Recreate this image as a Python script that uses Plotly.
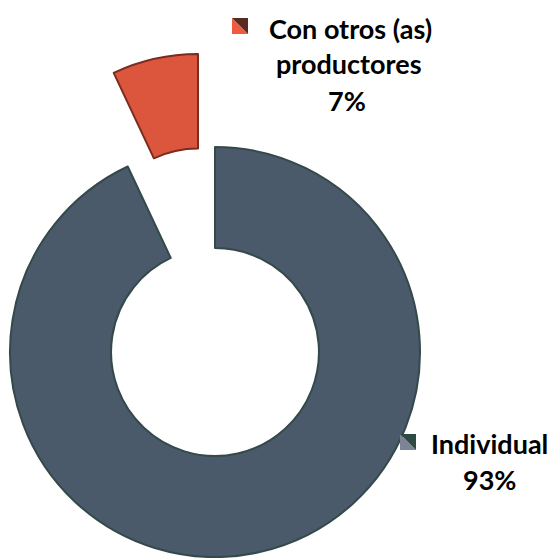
import plotly.graph_objects as go

categories = ["Individual", "Con otros (as) productores"]
values = [93, 7]
pct_labels = ["93%", "7%"]

blue = "#4a5a6b"
red = "#dc553d"
W, H = 553, 558

def px_dom(cx, cy, r):
    # cx, cy in px from top-left
    return dict(x=[(cx - r) / W, (cx + r) / W],
                y=[(H - cy - r) / H, (H - cy + r) / H])

fig = go.Figure()
# main ring (Individual)
fig.add_trace(go.Pie(
    labels=categories, values=values, sort=False, direction="clockwise",
    rotation=0, hole=0.507, textinfo="none", showlegend=False,
    marker=dict(colors=[blue, "rgba(0,0,0,0)"],
                line=dict(color=["#34494a", "rgba(0,0,0,0)"], width=2)),
    domain=px_dom(215, 352, 205),
))
# exploded slice (Con otros)
fig.add_trace(go.Pie(
    labels=categories, values=values, sort=False, direction="clockwise",
    rotation=0, hole=0.523, textinfo="none", showlegend=False,
    marker=dict(colors=["rgba(0,0,0,0)", red],
                line=dict(color=["rgba(0,0,0,0)", "#7a2c20"], width=2)),
    domain=dict(x=[0, 396 / W], y=[108 / H, 504 / H]),
))

font = dict(family="Lato", size=27, color="black", weight="bold")

def ann(text, x, y):
    return dict(text=text, x=x / W, y=1 - y / H, xref="paper", yref="paper",
                showarrow=False, xanchor="center", yanchor="middle", font=font)

annotations = [
    ann("Con otros (as)", 350, 28),
    ann("productores", 349, 64),
    ann(pct_labels[1], 347, 100),
    ann(categories[0], 489, 443),
    ann(pct_labels[0], 490, 479),
]

def tri(x0, y0, s, c_bl, c_tr):
    # legend key split diagonally
    X0, X1 = x0 / W, (x0 + s) / W
    Y0, Y1 = 1 - (y0 + s) / H, 1 - y0 / H
    return [
        dict(type="path", xref="paper", yref="paper",
             path=f"M{X0},{Y0} L{X1},{Y0} L{X0},{Y1} Z",
             fillcolor=c_bl, line=dict(width=0)),
        dict(type="path", xref="paper", yref="paper",
             path=f"M{X1},{Y1} L{X1},{Y0} L{X0},{Y1} Z",
             fillcolor=c_tr, line=dict(width=0)),
    ]

shapes = tri(232, 18, 16, "#ef5a40", "#5a2a20") + tri(400, 434, 16, "#7e8498", "#2f4a42")

fig.update_layout(
    width=W, height=H, margin=dict(l=0, r=0, t=0, b=0),
    paper_bgcolor="white", plot_bgcolor="white",
    annotations=annotations, shapes=shapes,
)

fig.write_html("out.html", config={"displayModeBar": False},
               post_script="document.body.style.margin='0px';document.body.style.overflow='hidden';")
